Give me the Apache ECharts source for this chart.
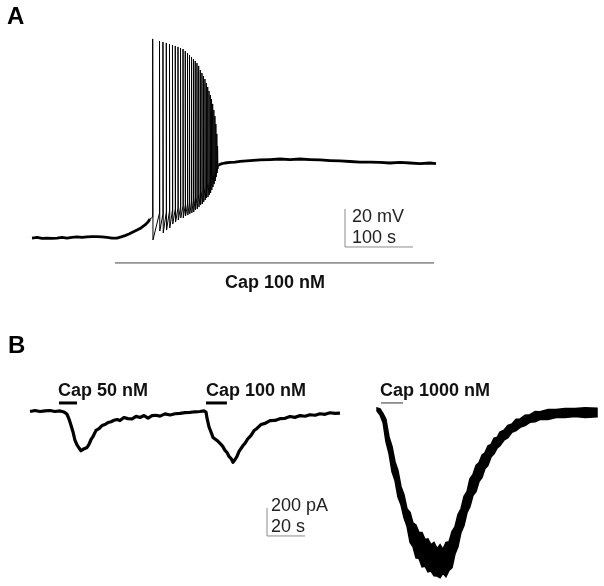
<!DOCTYPE html>
<html>
<head>
<meta charset="utf-8">
<script src="https://cdn.jsdelivr.net/npm/echarts@6/dist/echarts.min.js"></script>
<style>
  html, body { margin: 0; padding: 0; background: #fff; }
  #chart { width: 604px; height: 586px; }
</style>
</head>
<body>
<div id="chart"></div>
<script>
// ---- panel A: membrane potential, [time s, mV] ----
const restTrace = [
  [0, -64.5], [7.4, -64.2], [14.7, -64.7], [22.1, -64.5], [29.4, -64.7], [36.8, -64.5],
  [44.1, -64.2], [51.5, -64.5], [58.8, -64.2], [66.2, -63.9], [73.5, -64.2], [80.9, -63.9],
  [88.2, -63.7], [95.6, -63.7], [102.9, -63.9], [110.3, -64.2], [117.6, -64.5], [125.0, -64.5],
  [130.9, -63.9], [136.8, -63.2], [142.6, -62.4], [148.5, -61.3], [154.4, -60.3], [160.3, -59.2],
  [166.2, -57.6], [170.6, -56.1], [173.5, -54.5]
];
const spikeTimes = [177.5, 187.5, 192.6, 197.5, 202.2, 206.6, 210.7, 214.7, 218.4, 222.1, 225.4,
  228.7, 231.6, 234.6, 237.4, 240.0, 242.6, 245.1, 247.5, 249.9, 252.1, 254.3, 256.3, 258.4,
  260.3, 262.2, 264.0, 265.7, 267.4, 269.0, 270.4, 271.8, 272.9];
const spikePeaks = [40.3, 39.2, 38.7, 38.2, 37.6, 37.1, 36.6, 36.1, 35.5, 35.0, 33.9, 32.9, 31.8,
  30.8, 29.7, 28.7, 27.6, 26.1, 23.9, 22.4, 20.8, 19.2, 17.1, 15.0, 12.9, 10.8, 8.7, 6.1, 2.9,
  -0.3, -4.5, -9.7, -16.1];
const spikeTroughs = [-65.5, -60.8, -61.8, -60.3, -59.2, -57.1, -56.1, -55.0, -53.9, -53.9, -52.9,
  -52.4, -51.8, -51.3, -50.8, -49.7, -49.2, -48.2, -47.1, -46.6, -45.5, -44.5, -43.4, -42.9,
  -41.8, -40.8, -39.2, -37.6, -36.1, -34.5, -32.4, -30.3, -28.2];
const spikeBases = [-53.4, -51.3, -51.8, -50.8, -50.3, -49.7, -49.2, -48.7, -48.2, -47.6, -47.1,
  -46.6, -46.1, -45.5, -44.5, -43.4, -42.9, -41.8, -40.8, -39.7, -38.7, -37.6, -36.6, -35.5,
  -34.5, -33.4, -32.4, -31.3, -30.3, -29.2, -28.2, -27.1, -26.6];
const plateauTrace = [
  [274.3, -26.1], [277.9, -25.5], [283.8, -25.0], [291.2, -24.7], [298.5, -24.5], [305.9, -24.2],
  [320.6, -23.7], [335.3, -23.4], [350.0, -23.2], [364.7, -22.9], [379.4, -23.2], [394.1, -22.9],
  [408.8, -23.2], [423.5, -23.4], [438.2, -23.7], [452.9, -23.9], [467.6, -24.2], [482.4, -24.5],
  [497.1, -24.5], [511.8, -24.7], [526.5, -25.0], [541.2, -24.7], [555.9, -25.0], [570.6, -25.3],
  [585.3, -25.0], [594.1, -25.3]
];
const capBarA = [[122.1, -77.6], [591.2, -77.6]];
const scaleBarA = [[460.3, -49.2], [460.3, -69.2], [560.3, -69.2]];

// ---- panel B: current, [time s, pA] ----
const traceB12 = [
  [5.3, -5], [7.9, 2], [10.5, -5], [13.2, -1], [15.8, 2], [18.4, -5], [21.1, -1], [23.2, -9],
  [24.7, -23], [25.8, -59], [26.8, -101], [27.9, -151], [28.9, -209], [30.0, -244], [31.1, -266],
  [32.1, -285], [33.2, -275], [34.2, -280], [35.3, -262], [36.3, -240], [37.4, -205], [38.4, -185],
  [40.0, -140], [41.6, -128], [43.2, -105], [44.7, -98], [46.3, -84], [47.9, -78], [49.5, -68],
  [51.1, -62], [52.6, -70], [54.7, -48], [56.8, -56], [59.0, -58], [61.1, -40], [63.2, -48],
  [65.3, -34], [67.4, -52], [69.5, -35], [71.6, -32], [73.7, -38], [76.3, -22], [79.0, -30],
  [81.6, -21], [84.2, -18], [86.8, -13], [89.5, -11], [92.1, -7], [94.7, -5], [96.8, -1],
  [97.9, -9], [98.4, -51], [99.5, -116], [100.5, -151], [101.6, -190], [102.6, -190],
  [103.7, -212], [104.7, -220], [105.8, -240], [106.8, -256], [107.9, -283], [109.0, -298],
  [110.0, -326], [111.1, -341], [112.1, -368], [113.2, -348], [114.2, -326], [115.3, -290],
  [116.3, -276], [117.4, -248], [118.4, -233], [120.0, -198], [121.6, -176], [123.2, -141],
  [124.7, -126], [126.8, -98], [129.0, -90], [131.6, -70], [134.2, -69], [136.8, -56],
  [139.5, -54], [142.1, -41], [144.7, -47], [147.4, -34], [150.0, -39], [152.6, -28],
  [155.3, -32], [157.9, -21], [160.5, -25], [163.2, -14], [165.8, -18], [168.4, -16]
];
const b3Time = [187.9, 189.5, 191.1, 192.6, 194.2, 195.8, 197.4, 198.9, 200.5, 202.1, 203.7, 205.3,
  206.8, 208.4, 210.0, 211.6, 213.2, 214.7, 216.3, 217.9, 219.5, 221.1, 222.6, 224.2, 225.8,
  227.4, 228.9, 230.5, 232.1, 233.7, 235.3, 236.8, 238.4, 240.0, 241.6, 243.2, 244.7, 246.3,
  247.9, 249.5, 251.1, 252.6, 254.7, 256.8, 258.9, 261.1, 263.2, 265.8, 268.4, 271.1, 273.7,
  277.9, 282.1, 286.8, 292.1, 297.4, 303.7];
const b3Upper = [20, 13, -20, -60, -185, -255, -365, -425, -540, -600, -700, -725, -800, -815, -870,
  -870, -920, -915, -955, -940, -985, -955, -990, -940, -935, -860, -830, -740, -700, -610, -575,
  -485, -455, -390, -370, -315, -300, -250, -240, -195, -190, -152, -138, -104, -94, -60, -58,
  -32, -28, -5, -6, 9, 10, 16, 17, 21, 18];
const b3Lower = [-1, -30, -85, -220, -305, -435, -500, -615, -670, -765, -825, -940, -970, -1050,
  -1055, -1115, -1110, -1150, -1145, -1178, -1180, -1192, -1160, -1185, -1140, -1120, -1025, -972,
  -868, -820, -725, -686, -605, -578, -505, -476, -414, -390, -330, -308, -266, -250, -210, -192,
  -153, -142, -118, -106, -82, -78, -62, -63, -48, -48, -40, -47, -42];
const stim50 = [[20.5, 56], [30.0, 56]];
const stim100 = [[97.9, 56], [108.9, 56]];
const stim1000 = [[190.0, 56], [201.6, 56]];
const scaleBarB = [[130.0, -694], [130.0, -894], [150.0, -894]];

// spike train: base -> peak -> trough for each spike
const spikeData = [restTrace[restTrace.length - 1]];
spikeTimes.forEach(function (t, i) {
  spikeData.push([t, spikeBases[i]]);
  spikeData.push([t, spikePeaks[i]]);
  spikeData.push([t + 0.4, spikeTroughs[i]]);
});
spikeData.push(plateauTrace[0]);

const FONT = '"Liberation Sans", Arial, Helvetica, sans-serif';

function lineSeries(data, idx, color, width) {
  return {
    type: 'line', data: data, xAxisIndex: idx, yAxisIndex: idx,
    showSymbol: false, silent: true, clip: false,
    lineStyle: { color: color, width: width, join: 'round' }
  };
}

const chart = echarts.init(document.getElementById('chart'), null, { renderer: 'canvas' });
chart.setOption({
  animation: false,
  backgroundColor: '#fff',
  grid: [
    { left: 32, top: 30, width: 408, height: 237.5 },
    { left: 20, top: 380, width: 579.5, height: 205.8 }
  ],
  xAxis: [
    { type: 'value', gridIndex: 0, min: 0, max: 600, show: false },
    { type: 'value', gridIndex: 1, min: 0, max: 305, show: false }
  ],
  yAxis: [
    { type: 'value', gridIndex: 0, min: -80, max: 45, show: false },
    { type: 'value', gridIndex: 1, min: -1250, max: 220, show: false }
  ],
  series: [
    lineSeries(restTrace, 0, '#000', 2.8),
    lineSeries(spikeData, 0, '#000', 1),
    lineSeries(plateauTrace, 0, '#000', 2.8),
    lineSeries(capBarA, 0, '#444', 1),
    lineSeries(scaleBarA, 0, '#8a8a8a', 1),
    lineSeries(traceB12, 1, '#000', 3.2),
    lineSeries(stim50, 1, '#000', 3),
    lineSeries(stim100, 1, '#000', 3),
    lineSeries(stim1000, 1, '#333', 1),
    lineSeries(scaleBarB, 1, '#8a8a8a', 1),
    {
      // noisy 1000 nM response drawn as a filled band
      type: 'custom', xAxisIndex: 1, yAxisIndex: 1, silent: true, clip: false,
      data: [[0]],
      renderItem: function (params, api) {
        const pts = [];
        for (let i = 0; i < b3Time.length; i++) pts.push(api.coord([b3Time[i], b3Upper[i]]));
        for (let i = b3Time.length - 1; i >= 0; i--) pts.push(api.coord([b3Time[i], b3Lower[i]]));
        return {
          type: 'polygon',
          shape: { points: pts },
          style: { fill: '#000', stroke: '#000', lineWidth: 1.5 }
        };
      }
    }
  ],
  graphic: [
    { type: 'text', x: 7, y: 17, style: { text: 'A', font: 'bold 24px ' + FONT, fill: '#000', verticalAlign: 'middle' } },
    { type: 'text', x: 8, y: 346, style: { text: 'B', font: 'bold 24px ' + FONT, fill: '#000', verticalAlign: 'middle' } },
    { type: 'text', x: 352, y: 217, style: { text: '20 mV', font: '18px ' + FONT, fill: '#222', verticalAlign: 'middle' } },
    { type: 'text', x: 352, y: 238, style: { text: '100 s', font: '18px ' + FONT, fill: '#222', verticalAlign: 'middle' } },
    { type: 'text', x: 275, y: 283, style: { text: 'Cap 100 nM', font: 'bold 18px ' + FONT, fill: '#111', align: 'center', verticalAlign: 'middle' } },
    { type: 'text', x: 58, y: 391, style: { text: 'Cap 50 nM', font: 'bold 18px ' + FONT, fill: '#111', verticalAlign: 'middle' } },
    { type: 'text', x: 206, y: 391, style: { text: 'Cap 100 nM', font: 'bold 18px ' + FONT, fill: '#111', verticalAlign: 'middle' } },
    { type: 'text', x: 380, y: 391, style: { text: 'Cap 1000 nM', font: 'bold 18px ' + FONT, fill: '#111', verticalAlign: 'middle' } },
    { type: 'text', x: 271, y: 506, style: { text: '200 pA', font: '18px ' + FONT, fill: '#222', verticalAlign: 'middle' } },
    { type: 'text', x: 271, y: 527, style: { text: '20 s', font: '18px ' + FONT, fill: '#222', verticalAlign: 'middle' } }
  ]
});
</script>
</body>
</html>
